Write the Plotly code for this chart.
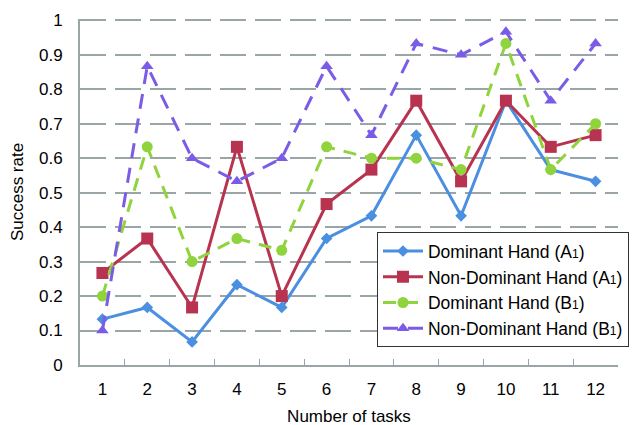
import plotly.graph_objects as go

tasks = [str(i) for i in range(1, 13)]
dom_a1 = [0.133, 0.167, 0.067, 0.233, 0.167, 0.367, 0.433, 0.667, 0.433, 0.767, 0.567, 0.533]
nondom_a1 = [0.267, 0.367, 0.167, 0.633, 0.2, 0.467, 0.567, 0.767, 0.533, 0.767, 0.633, 0.667]
dom_b1 = [0.2, 0.633, 0.3, 0.367, 0.333, 0.633, 0.6, 0.6, 0.567, 0.933, 0.567, 0.7]
nondom_b1 = [0.1, 0.867, 0.6, 0.533, 0.6, 0.867, 0.667, 0.933, 0.9, 0.967, 0.767, 0.933]
y_ticks = [0, 0.1, 0.2, 0.3, 0.4, 0.5, 0.6, 0.7, 0.8, 0.9, 1]
y_labels = ["0", "0.1", "0.2", "0.3", "0.4", "0.5", "0.6", "0.7", "0.8", "0.9", "1"]

FONT = "Liberation Sans, Arial, sans-serif"
SUB = '<span style="font-size:12px">1</span>'

series = [
    ("Dominant Hand (A" + SUB + ")", dom_a1, "#4a8fe0", "solid", "diamond", 9),
    ("Non-Dominant Hand (A" + SUB + ")", nondom_a1, "#b8334f", "solid", "square", 12),
    ("Dominant Hand (B" + SUB + ")", dom_b1, "#8fd33d", "13px,9px", "circle", 11),
    ("Non-Dominant Hand (B" + SUB + ")", nondom_b1, "#7a5ce6", "15px,10px", "triangle-up", 11),
]

fig = go.Figure()
for name, vals, color, dash, sym, size in series:
    fig.add_trace(go.Scatter(
        x=tasks, y=vals, name=name, mode="lines+markers",
        line=dict(color=color, width=3, dash=dash),
        marker=dict(color=color, symbol=sym, size=size),
    ))

# the page body has an 8px margin, so the figure is offset by that much
fig.update_layout(
    width=631, height=425,
    margin=dict(l=72, r=10, t=11, b=68),
    plot_bgcolor="white", paper_bgcolor="white",
    font=dict(family=FONT, color="black", size=17),
    legend=dict(
        x=0.552, y=0.384, xanchor="left", yanchor="top",
        bgcolor="white", bordercolor="#333333", borderwidth=1,
        font=dict(size=17.5, family=FONT), itemwidth=40,
    ),
    showlegend=True,
)
fig.update_xaxes(
    type="category", range=[-0.5, 11.5], tickson="boundaries", ticks="inside", ticklen=6,
    tickcolor="#9aa5a8", showline=True, linecolor="#9aa5a8", linewidth=2,
    showgrid=False, automargin=False,
    title=dict(text="Number of tasks", font=dict(size=17), standoff=12),
    tickfont=dict(size=17), ticklabelstandoff=8,
)
fig.update_yaxes(
    range=[0, 1.004], tickvals=y_ticks, ticktext=y_labels,
    showline=True, linecolor="#9aa5a8", linewidth=2,
    showgrid=True, gridcolor="#9aa5a8", gridwidth=2, griddash="26px,9px",
    zeroline=False, ticks="", automargin=False,
    title=dict(text="Success rate", font=dict(size=17), standoff=14),
    tickfont=dict(size=17), ticklabelstandoff=12,
)

fig.write_html("out.html")
